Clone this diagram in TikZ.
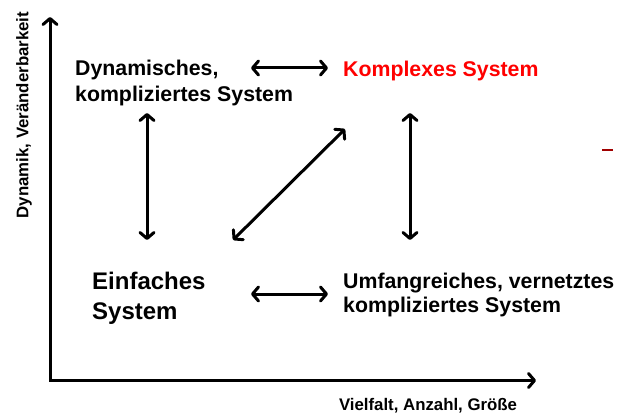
\documentclass[tikz,border=0pt]{standalone}
\usepackage{fontspec}
\setmainfont{Liberation Sans}
\usetikzlibrary{arrows.meta}
\definecolor{darkred}{HTML}{A00000}
\tikzset{
  lbl/.style={inner sep=0pt, anchor=west, align=left, font=\bfseries\fontsize{21.3}{26}\selectfont},
  big/.style={inner sep=0pt, anchor=west, align=left, font=\bfseries\fontsize{24}{30}\selectfont},
  axlbl/.style={inner sep=0pt, font=\bfseries\fontsize{16.8}{20}\selectfont},
  barb/.tip={Straight Barb[length=6pt,width=14pt,line join=round,line cap=round]},
  dbl/.style={line width=3pt, barb-barb},
  axis/.style={line width=3pt, barb-barb, line join=miter}
}
\begin{document}
\begin{tikzpicture}[x=1pt,y=-1pt]
\useasboundingbox (0,0) rectangle (617,414);
% axes
\coordinate (xend) at (536,380.5);
\coordinate (origin) at (50,380.5);
\coordinate (yend) at (50,17);
\draw[axis] (xend) -- (origin) -- (yend);
\node[axlbl, rotate=90] (ylab) at (24,115) {Dynamik, Veränderbarkeit};
\node[axlbl] (xlab) at (428,406) {Vielfalt, Anzahl, Größe};
% labels
\node[lbl] (dyn) at (75,83) {Dynamisches,\\kompliziertes System};
\node[lbl, text=red] (kom) at (343,71) {Komplexes System};
\node[big] (ein) at (92,298) {Einfaches\\System};
\node[lbl, font=\bfseries\fontsize{21.3}{24}\selectfont] (umf) at (343,295) {Umfangreiches, vernetztes\\kompliziertes System};
% arrow ends
\coordinate (a1) at (251,68);
\coordinate (a2) at (328,68);
\coordinate (b1) at (147,113);
\coordinate (b2) at (147,240);
\coordinate (c1) at (233,240);
\coordinate (c2) at (345,129);
\coordinate (d1) at (410,113);
\coordinate (d2) at (410,240);
\coordinate (e1) at (251,294);
\coordinate (e2) at (328,294);
\draw[dbl] (a1) -- (a2);
\draw[dbl] (b1) -- (b2);
\draw[dbl] (c1) -- (c2);
\draw[dbl] (d1) -- (d2);
\draw[dbl] (e1) -- (e2);
% red dash
\coordinate (r1) at (602,150);
\coordinate (r2) at (613,150);
\draw[darkred, line width=2pt] (r1) -- (r2);
\end{tikzpicture}
\end{document}
